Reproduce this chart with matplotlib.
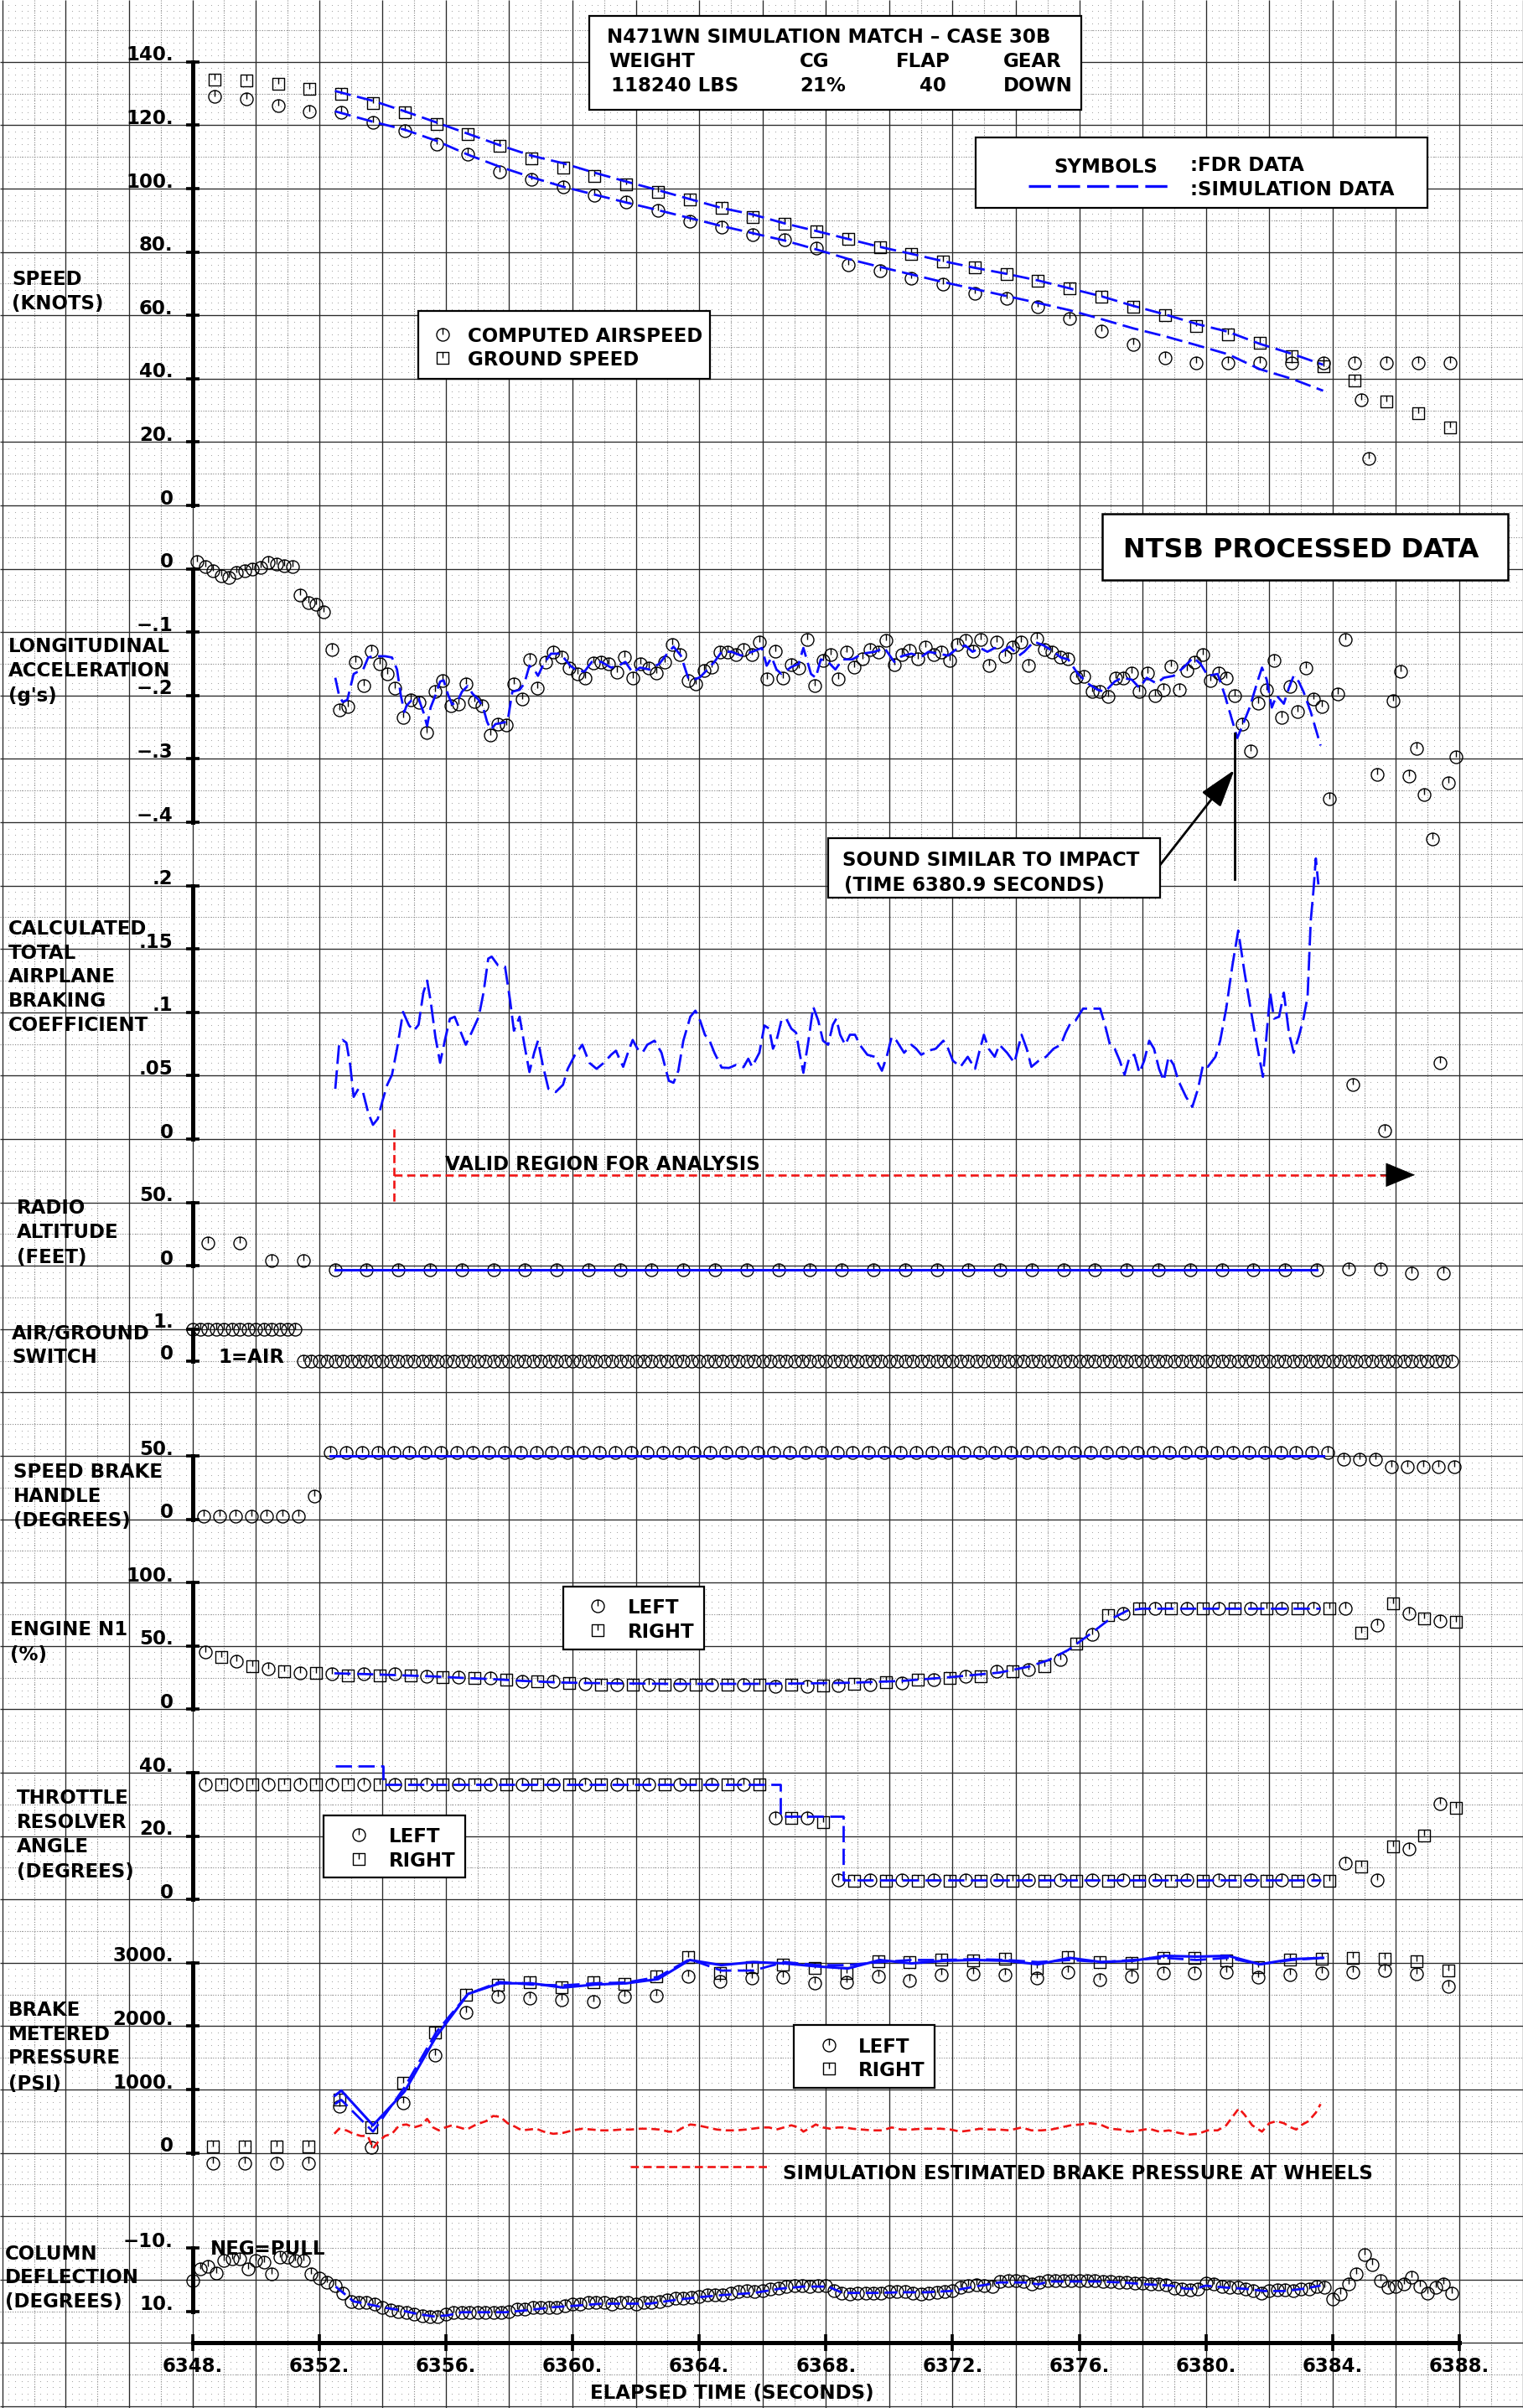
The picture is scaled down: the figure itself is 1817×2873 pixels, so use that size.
import numpy as np
import matplotlib
matplotlib.use("Agg")
import matplotlib.pyplot as plt
from matplotlib.path import Path
from matplotlib.patches import Rectangle
from matplotlib.lines import Line2D
from matplotlib import transforms

plt.rcParams['font.family'] = ['DejaVu Sans']
plt.rcParams['font.weight'] = 'bold'
plt.rcParams['lines.scale_dashes'] = False

# ---------------------------------------------------------------- data
# speed (knots), FDR at 1 Hz
t_spd = np.arange(6348.7, 6388.0, 1.0)
gs_fdr = [134.5, 134.0, 133.1, 131.6, 129.9, 127.1, 124.1, 120.5, 117.1, 113.5,
          109.6, 106.5, 103.9, 101.2, 99.0, 96.5, 93.9, 91.0, 89.0, 86.6,
          84.1, 81.6, 79.4, 77.1, 75.0, 73.1, 71.0, 68.5, 66.0, 62.8,
          60.0, 56.5, 54.0, 51.2, 47.1, 43.8, 39.4, 32.9, 29.0, 24.7]
cas_fdr = [129.2, 128.3, 126.1, 124.4, 124.2, 120.9, 118.3, 113.9, 110.8, 105.3,
           103.0, 100.5, 98.0, 95.7, 93.2, 89.6, 87.7, 85.5, 83.9, 81.2,
           76.0, 74.0, 71.8, 69.9, 66.9, 65.4, 62.7, 58.9, 55.0, 50.7,
           46.6, 44.9, 44.9, 44.9, 44.9, 44.9, 44.9, 44.9, 44.9, 44.9]
t_spd_sim = np.r_[6352.5, np.arange(6353.7, 6384.0, 1.0)]
gs_sim = [130.8, 127.7, 124.4, 120.9, 117.3, 113.7, 110.4, 108.0, 105.0, 102.2,
          99.5, 96.7, 93.9, 91.8, 89.0, 86.6, 84.1, 81.6, 79.4, 77.1,
          75.0, 73.1, 71.0, 68.5, 66.0, 63.0, 60.3, 57.3, 54.8, 51.0, 47.9, 44.4]
cas_sim = [124.4, 121.1, 118.6, 115.1, 110.7, 106.9, 103.6, 100.6, 98.1, 95.6,
           93.2, 90.7, 88.2, 85.9, 83.6, 80.8, 77.8, 75.3, 72.9, 70.5,
           68.3, 66.1, 63.9, 61.6, 58.8, 55.9, 53.4, 50.6, 47.7, 43.0, 40.0, 36.2]

# longitudinal acceleration (g), FDR at 4 Hz
t_acc = 6348.15 + 0.25 * np.arange(160)
acc_fdr = [0.011, 0.003, -0.003, -0.011, -0.014, -0.006, -0.003, -0.001, 0.002, 0.010,
           0.007, 0.005, 0.003, -0.042, -0.054, -0.056, -0.068, -0.128, -0.223, -0.218,
           -0.147, -0.185, -0.130, -0.150, -0.166, -0.188, -0.235, -0.207, -0.211, -0.259,
           -0.194, -0.176, -0.216, -0.213, -0.182, -0.210, -0.216, -0.262, -0.245, -0.246,
           -0.182, -0.205, -0.144, -0.189, -0.147, -0.131, -0.139, -0.157, -0.166, -0.173,
           -0.149, -0.147, -0.150, -0.163, -0.140, -0.172, -0.150, -0.157, -0.164, -0.147,
           -0.120, -0.135, -0.176, -0.182, -0.161, -0.155, -0.131, -0.131, -0.136, -0.128,
           -0.136,
           -0.115, -0.174, -0.130, -0.173, -0.151, -0.156, -0.112, -0.185, -0.145, -0.136,
           -0.174, -0.131, -0.155, -0.142, -0.128, -0.131, -0.113, -0.151, -0.135, -0.129,
           -0.142, -0.123, -0.135, -0.131, -0.145, -0.119, -0.113, -0.130, -0.111, -0.152,
           -0.115, -0.138, -0.123, -0.116, -0.153, -0.110, -0.128, -0.131, -0.139, -0.142,
           -0.171, -0.170, -0.193, -0.194, -0.202, -0.172, -0.172, -0.164, -0.193, -0.164,
           -0.200, -0.191, -0.154, -0.191, -0.161, -0.148, -0.136, -0.177, -0.165, -0.173,
           -0.200, -0.245, -0.287, -0.212, -0.191, -0.145, -0.235, -0.186, -0.226, -0.157,
           -0.205, -0.217, -0.363, -0.197, -0.112,
           -0.814, 0.267, 0.174, -0.324, -0.887, -0.208, -0.162, -0.327, -0.283, -0.356,
           -0.426, -0.779, -0.338, -0.297]
t_acc_sim = [6352.51, 6352.63, 6352.74, 6352.89, 6353.09, 6353.24, 6353.39, 6353.55, 6353.70, 6354.08,
             6354.30, 6354.46, 6354.58, 6354.69, 6354.76, 6354.91, 6355.14, 6355.29, 6355.41, 6355.52,
             6355.67, 6355.82, 6355.93, 6356.08, 6356.20, 6356.36, 6356.51, 6356.69, 6356.84, 6357.04,
             6357.19, 6357.30, 6357.42, 6357.57, 6357.80, 6357.95, 6358.10, 6358.33, 6358.48, 6358.64,
             6358.79, 6358.91, 6359.09, 6359.32, 6359.62, 6359.93, 6360.15, 6360.38, 6360.61, 6360.91,
             6361.22, 6361.45, 6361.67, 6361.90, 6362.13, 6362.43, 6362.74, 6363.04, 6363.19, 6363.42,
             6363.65, 6363.80, 6364.03, 6364.26, 6364.48, 6364.71, 6365.02, 6365.32, 6365.67,
             6365.98, 6366.13, 6366.29, 6366.44, 6366.60, 6366.91, 6367.14, 6367.29, 6367.53, 6367.68,
             6367.84, 6368.07, 6368.30, 6368.53, 6368.84, 6369.15, 6369.54, 6369.85, 6370.16, 6370.39,
             6370.70, 6371.01, 6371.24, 6371.55, 6371.86, 6372.17, 6372.40, 6372.63, 6372.87, 6373.10,
             6373.33, 6373.56, 6373.79, 6374.10, 6374.26, 6374.57, 6374.88, 6375.19, 6375.42, 6375.65,
             6375.96, 6376.27, 6376.58, 6376.81, 6377.12, 6377.35, 6377.66, 6377.90, 6378.13, 6378.44,
             6378.67, 6378.98, 6379.29, 6379.60, 6379.83, 6380.06, 6380.37, 6380.60, 6380.84, 6380.99,
             6381.15, 6381.38, 6381.61, 6381.77, 6381.92, 6382.08, 6382.23, 6382.46, 6382.62, 6382.77,
             6382.93, 6383.08, 6383.31, 6383.62]
acc_sim = [-0.172, -0.200, -0.210, -0.207, -0.166, -0.162, -0.159, -0.140, -0.138, -0.138,
           -0.140, -0.159, -0.200, -0.226, -0.216, -0.208, -0.205, -0.226, -0.248, -0.219,
           -0.200, -0.178, -0.176, -0.200, -0.214, -0.210, -0.194, -0.185, -0.197, -0.207,
           -0.221, -0.241, -0.254, -0.245, -0.243, -0.241, -0.194, -0.191, -0.181, -0.153,
           -0.159, -0.169, -0.150, -0.134, -0.134, -0.153, -0.161, -0.162, -0.147, -0.147,
           -0.156, -0.153, -0.147, -0.164, -0.156, -0.159, -0.150, -0.131, -0.123, -0.137,
           -0.172, -0.176, -0.171, -0.159, -0.147, -0.131, -0.131, -0.137, -0.131,
           -0.125, -0.153, -0.140, -0.159, -0.166, -0.155, -0.150, -0.125, -0.166, -0.172,
           -0.143, -0.147, -0.159, -0.143, -0.143, -0.134, -0.131, -0.125, -0.147, -0.138,
           -0.134, -0.139, -0.131, -0.134, -0.137, -0.125, -0.121, -0.131, -0.125, -0.131,
           -0.125, -0.131, -0.123, -0.137, -0.131, -0.115, -0.121, -0.131, -0.140, -0.143,
           -0.166, -0.181, -0.191, -0.194, -0.178, -0.172, -0.175, -0.188, -0.172, -0.181,
           -0.172, -0.169, -0.156, -0.140, -0.150, -0.169, -0.166, -0.200, -0.241, -0.267,
           -0.248, -0.219, -0.181, -0.156, -0.175, -0.219, -0.200, -0.213, -0.188, -0.169,
           -0.178, -0.194, -0.226, -0.279]

# calculated total airplane braking coefficient (simulation)
t_mu = [6352.51, 6352.63, 6352.74, 6352.86, 6352.98, 6353.09, 6353.24, 6353.39, 6353.55, 6353.70,
        6353.85, 6354.00, 6354.15, 6354.30, 6354.46, 6354.65, 6354.84, 6354.99, 6355.14, 6355.29,
        6355.41, 6355.52, 6355.67, 6355.82, 6355.98, 6356.13, 6356.28, 6356.43, 6356.63, 6356.81,
        6357.04, 6357.19, 6357.34, 6357.45, 6357.65, 6357.87, 6358.03, 6358.15, 6358.33, 6358.48,
        6358.64, 6358.79, 6358.91, 6359.06, 6359.24, 6359.47, 6359.70, 6359.85, 6360.08, 6360.31,
        6360.53, 6360.76, 6360.99, 6361.22, 6361.37, 6361.60, 6361.75, 6361.90, 6362.05, 6362.21,
        6362.36, 6362.59, 6362.81, 6363.04, 6363.19, 6363.34, 6363.50, 6363.72, 6363.88, 6364.03,
        6364.18, 6364.33, 6364.48, 6364.71, 6364.94, 6365.17, 6365.40, 6365.55, 6365.67,
        6365.90, 6366.06, 6366.21, 6366.33, 6366.44, 6366.60, 6366.75, 6366.91, 6367.06, 6367.17,
        6367.29, 6367.45, 6367.60, 6367.76, 6367.91, 6368.07, 6368.22, 6368.33, 6368.45, 6368.61,
        6368.76, 6368.92, 6369.07, 6369.31, 6369.54, 6369.77, 6369.92, 6370.08, 6370.23, 6370.47,
        6370.70, 6370.85, 6371.01, 6371.24, 6371.47, 6371.71, 6371.86, 6372.01, 6372.25, 6372.48,
        6372.71, 6372.87, 6372.99, 6373.14, 6373.33, 6373.48, 6373.72, 6373.95, 6374.18, 6374.34,
        6374.49, 6374.72, 6374.95, 6375.19, 6375.42, 6375.57, 6375.73, 6375.88, 6376.12, 6376.35,
        6376.66, 6376.81, 6376.97, 6377.12, 6377.28, 6377.43, 6377.59, 6377.74, 6377.90, 6378.05,
        6378.21, 6378.36, 6378.52, 6378.67, 6378.82, 6378.98, 6379.13, 6379.37, 6379.57, 6379.75,
        6379.91, 6380.06, 6380.30, 6380.45, 6380.64, 6380.84, 6381.02, 6381.22, 6381.41, 6381.61,
        6381.80, 6381.92, 6382.03, 6382.15, 6382.31, 6382.46, 6382.62, 6382.77, 6382.93, 6383.08,
        6383.21, 6383.31, 6383.39, 6383.47, 6383.55]
mu_sim = [0.0396, 0.0744, 0.0782, 0.0760, 0.0586, 0.0333, 0.0396, 0.0365, 0.0207, 0.0112,
          0.0159, 0.0301, 0.0428, 0.0507, 0.0713, 0.1003, 0.0896, 0.0855, 0.0902, 0.1155,
          0.1250, 0.1092, 0.0807, 0.0602, 0.0791, 0.0949, 0.0965, 0.0871, 0.0744, 0.0839,
          0.0965, 0.1155, 0.1424, 0.1439, 0.1370, 0.1360, 0.1092, 0.0855, 0.0965, 0.0744,
          0.0529, 0.0681, 0.0776, 0.0586, 0.0396, 0.0371, 0.0428, 0.0554, 0.0665, 0.0744,
          0.0602, 0.0554, 0.0602, 0.0665, 0.0697, 0.0570, 0.0681, 0.0782, 0.0713, 0.0681,
          0.0744, 0.0776, 0.0681, 0.0460, 0.0444, 0.0538, 0.0776, 0.0965, 0.1013, 0.0934,
          0.0823, 0.0776, 0.0681, 0.0564, 0.0561, 0.0586, 0.0567, 0.0634, 0.0570,
          0.0681, 0.0896, 0.0871, 0.0713, 0.0776, 0.0940, 0.0950, 0.0871, 0.0839, 0.0681,
          0.0523, 0.0776, 0.1044, 0.0934, 0.0776, 0.0744, 0.0902, 0.0950, 0.0823, 0.0744,
          0.0823, 0.0823, 0.0744, 0.0665, 0.0649, 0.0539, 0.0649, 0.0807, 0.0776, 0.0681,
          0.0744, 0.0713, 0.0665, 0.0697, 0.0713, 0.0776, 0.0713, 0.0618, 0.0570, 0.0649,
          0.0554, 0.0713, 0.0823, 0.0713, 0.0649, 0.0744, 0.0681, 0.0602, 0.0823, 0.0713,
          0.0570, 0.0618, 0.0649, 0.0713, 0.0744, 0.0839, 0.0918, 0.0934, 0.1029, 0.1029,
          0.1029, 0.0902, 0.0744, 0.0713, 0.0618, 0.0507, 0.0649, 0.0665, 0.0523, 0.0618,
          0.0776, 0.0713, 0.0554, 0.0460, 0.0649, 0.0586, 0.0460, 0.0333, 0.0254, 0.0396,
          0.0586, 0.0570, 0.0649, 0.0776, 0.1029, 0.1376, 0.1645, 0.1313, 0.1029, 0.0744,
          0.0491, 0.0839, 0.1155, 0.0950, 0.0965, 0.1155, 0.0839, 0.0681, 0.0807, 0.0950,
          0.1124, 0.1724, 0.1945, 0.2214, 0.2009]

# radio altitude (ft), FDR at 1 Hz
t_ra = np.arange(6348.5, 6388.0, 1.0)
ra_fdr = [18, 18, 4, 4, -3, -3, -3, -3, -3, -3,
          -3, -3, -3, -3, -3, -3, -3, -3, -3, -3,
          -3, -3, -3, -3, -3, -3, -3, -3, -3, -3,
          -3, -3, -3, -3, -3, -3, -2.5, -2.5, -6, -6]
t_ra_sim = [6352.5, 6383.5]
ra_sim = [-3.3, -3.3]

# air/ground switch (1 = air), 4 Hz
t_ag = 6348.0 + 0.25 * np.arange(160)
ag_fdr = [1] * 14 + [0] * 146

# speed brake handle (deg), 2 Hz
t_sb = 6348.35 + 0.5 * np.arange(80)
sb_fdr = [2.4] * 7 + [18.5] + [52.6] * 64 + [47.2] * 3 + [41.3] * 5
t_sb_sim = [6352.35, 6383.7]
sb_sim = [50.0, 50.0]

# engine N1 (%), left and right channels at 1 Hz
t_n1_l = np.arange(6348.4, 6387.5, 1.0)
t_n1_r = np.arange(6348.9, 6388.0, 1.0)
n1_left = [45.5, 37.8, 31.9, 28.4, 27.8, 27.8, 27.8, 26.3, 25.4, 24.5,
           22.4, 22.4, 20.4, 19.5, 19.5, 19.5, 19.5, 19.5, 18.0, 18.0,
           18.6, 19.5, 21.0, 23.3, 26.0, 29.8, 31.3, 39.3, 59.3, 75.6,
           79.4, 79.4, 79.4, 79.4, 79.4, 79.4, 79.4, 66.7, 75.6, 69.7]
n1_right = [41.6, 34.3, 29.8, 28.4, 26.9, 26.9, 26.9, 25.4, 24.5, 23.1,
            22.4, 21.0, 19.5, 19.5, 19.5, 19.5, 19.5, 19.5, 19.5, 18.6,
            20.1, 21.6, 23.1, 24.5, 26.0, 29.8, 34.3, 52.0, 74.1, 79.4,
            79.4, 79.4, 79.4, 79.4, 79.4, 79.4, 60.2, 83.9, 72.0, 68.8]
t_n1_sim = [6352.48, 6353.47, 6354.53, 6355.60, 6356.51, 6357.42, 6358.48, 6359.55, 6360.61, 6361.67,
            6363.19, 6364.71, 6365.74, 6367.29, 6368.84, 6370.39, 6371.94, 6373.48, 6374.41, 6375.03,
            6375.65, 6376.27, 6376.89, 6377.51, 6377.97, 6383.62]
n1_sim = [28.4, 27.8, 26.9, 26.0, 24.8, 23.9, 22.4, 21.2, 20.7, 20.4,
          20.1, 20.1, 20.1, 20.4, 21.0, 22.4, 25.4, 29.0, 33.7, 38.8,
          46.8, 58.0, 69.8, 77.8, 79.4, 79.4]

# throttle resolver angle (deg)
tra_left = [36.2] * 18 + [25.7, 25.7] + [6.1] * 16 + [11.5, 6.1, 16.0, 30.2]
tra_right = [36.2] * 18 + [25.7, 24.3] + [6.0] * 16 + [10.4, 16.7, 20.1, 28.9]
t_tra_sim = [6352.5, 6354.03, 6366.55, 6368.56, 6383.62]
tra_sim = [42.2, 36.2, 26.2, 6.1, 6.1]

# brake metered pressure (psi), 1 Hz
t_bp = np.arange(6348.65, 6388.0, 1.0)
bp_left = [-167, -167, -167, -167, 735, 87, 783, 1538, 2221, 2462,
           2442, 2421, 2388, 2462, 2475, 2790, 2709, 2763, 2776, 2676,
           2696, 2790, 2722, 2809, 2823, 2809, 2757, 2856, 2735, 2790,
           2843, 2843, 2856, 2776, 2809, 2843, 2856, 2877, 2823, 2622]
bp_right = [101, 101, 101, 101, 836, 401, 1103, 1906, 2495, 2656,
            2689, 2608, 2696, 2669, 2790, 3090, 2843, 2930, 2976, 2923,
            2843, 3024, 3011, 3044, 3031, 3064, 2923, 3090, 3011, 2997,
            3077, 3077, 3031, 2930, 3044, 3064, 3077, 3057, 3024, 2877]
t_bp_sim = np.r_[6352.5, np.arange(6352.7, 6384.0, 1.0)]
bp_sim_left = [903, 983, 435, 970, 1840, 2508, 2676, 2676, 2609, 2656,
               2676, 2742, 3044, 2963, 3011, 2990, 2943, 2910, 3044, 2990,
               3031, 3044, 3031, 2976, 3077, 3011, 3031, 3110, 3097, 3110,
               2976, 3057, 3077]
bp_sim_right = [770, 836, 335, 1037, 1906, 2508, 2696, 2656, 2643, 2676,
                2689, 2776, 3057, 2877, 2877, 3011, 2963, 2963, 3011, 3044,
                3044, 3057, 3044, 3011, 3044, 3011, 3044, 3077, 3044, 3077,
                2976, 3044, 3077]
t_wheel = [6352.48, 6352.63, 6352.86, 6353.09, 6353.32, 6353.54, 6353.70, 6353.85, 6354.08, 6354.30,
           6354.53, 6354.76, 6354.99, 6355.22, 6355.41, 6355.60, 6355.78, 6355.98, 6356.20, 6356.43,
           6356.66, 6356.96, 6357.27, 6357.49, 6357.72, 6357.95, 6358.18, 6358.40, 6358.63, 6358.86,
           6359.09, 6359.39, 6359.70, 6360.00, 6360.31, 6360.61, 6360.91, 6361.22, 6361.52, 6361.83,
           6362.13, 6362.43, 6362.74, 6363.04, 6363.27, 6363.50, 6363.72, 6363.95, 6364.26, 6364.56,
           6364.86, 6365.17, 6365.47,
           6365.98, 6366.21, 6366.44, 6366.67, 6366.91, 6367.14, 6367.29, 6367.53, 6367.68, 6367.91,
           6368.14, 6368.38, 6368.61, 6368.84, 6369.15, 6369.46, 6369.77, 6370.08, 6370.39, 6370.70,
           6371.01, 6371.32, 6371.63, 6371.94, 6372.25, 6372.56, 6372.87, 6373.18, 6373.48, 6373.79,
           6374.18, 6374.49, 6374.80, 6375.11, 6375.42, 6375.73, 6376.04, 6376.35, 6376.66, 6376.97,
           6377.28, 6377.59, 6377.90, 6378.21, 6378.52, 6378.83, 6379.14, 6379.44, 6379.75, 6380.06,
           6380.37, 6380.64, 6380.84, 6381.04, 6381.22, 6381.46, 6381.77, 6382.00, 6382.23, 6382.46,
           6382.69, 6382.85, 6383.00, 6383.24, 6383.47, 6383.62]
p_wheel = [301, 381, 355, 301, 267, 267, 67, 167, 267, 301,
           435, 448, 401, 435, 536, 401, 355, 401, 435, 401,
           368, 448, 501, 582, 569, 468, 415, 355, 368, 381,
           335, 301, 315, 355, 381, 368, 355, 355, 368, 368,
           381, 381, 368, 335, 335, 401, 448, 435, 401, 368,
           355, 355, 368,
           401, 401, 368, 401, 435, 401, 335, 401, 448, 401,
           381, 401, 401, 381, 368, 355, 355, 401, 368, 368,
           381, 381, 381, 368, 335, 355, 381, 368, 368, 355,
           401, 355, 355, 368, 401, 435, 448, 468, 448, 381,
           368, 335, 355, 381, 335, 355, 315, 287, 301, 355,
           355, 435, 569, 702, 602, 435, 335, 468, 501, 468,
           401, 368, 435, 501, 635, 770]

# column deflection (deg, negative = pull), 4 Hz
t_col = 6348.0 + 0.25 * np.arange(160)
col_fdr = [0.2, -3.4, -4.2, -2.1, -6.1, -6.5, -6.5, -3.4, -6.1, -5.6,
           -1.8, -7.2, -7.2, -5.9, -6.1, -1.8, -0.5, 0.9, 1.9, 4.2,
           6.9, 7.3, 7.3, 7.6, 8.7, 9.6, 10.0, 10.3, 10.9, 11.3,
           11.6, 11.6, 10.9, 10.5, 10.5, 10.3, 10.3, 10.3, 10.3, 10.3,
           10.0, 9.3, 9.2, 8.9, 8.7, 8.7, 8.7, 8.2, 7.8, 7.6,
           7.3, 7.3, 7.3, 7.6, 7.3, 7.3, 7.6, 7.3, 7.3, 6.9,
           6.5, 6.0, 6.0, 5.6, 5.3, 4.9, 4.9, 4.9, 4.2, 3.8,
           3.6,
           3.8, 3.6, 2.9, 2.6, 2.2, 1.9, 1.9, 2.2, 1.9, 1.9,
           3.6, 4.2, 4.5, 4.2, 4.2, 4.2, 4.2, 3.8, 3.8, 3.8,
           4.2, 4.6, 4.4, 4.0, 3.8, 3.6, 2.5, 1.9, 1.7, 1.9,
           2.2, 0.6, 0.3, 0.2, 0.6, 1.5, 0.9, 0.2, 0.2, 0.2,
           0.2, 0.2, 0.2, 0.3, 0.6, 0.6, 0.9, 0.9, 1.1, 1.1,
           1.3, 1.5, 1.7, 2.7, 3.0, 3.3, 2.9, 1.1, 1.5, 2.2,
           2.5, 2.5, 2.9, 3.6, 4.2, 3.6, 3.3, 3.3, 3.6, 2.9,
           2.9, 2.2, 2.5, 6.2, 4.6, 1.5, -1.8, -7.9, -4.8, 0.2,
           2.5, 2.2, 1.5, -0.7, 2.2, 4.2, 2.5, 1.5, 4.2]
t_col_sim = [6352.52, 6353.09, 6353.47, 6354.08, 6354.53, 6355.14, 6355.60, 6356.05, 6356.51, 6357.12,
             6357.88, 6358.64, 6359.40, 6360.15, 6360.91, 6361.67, 6362.43, 6363.19, 6363.95, 6364.71,
             6365.74, 6366.52, 6367.29, 6368.07, 6368.53, 6369.61, 6370.39, 6371.16, 6371.94, 6372.71,
             6373.48, 6374.26, 6374.72, 6375.03, 6375.81, 6376.58, 6377.35, 6378.13, 6378.90, 6379.37,
             6379.68, 6379.99, 6380.60, 6381.22, 6381.84, 6382.46, 6383.08, 6383.62]
col_sim = [2.2, 6.9, 7.6, 8.9, 9.6, 10.9, 11.6, 11.3, 10.3, 10.3,
           10.3, 9.6, 8.7, 8.2, 7.6, 7.6, 7.6, 6.5, 5.6, 4.9,
           4.2, 2.9, 2.2, 2.2, 4.2, 4.2, 4.0, 4.0, 3.6, 2.2,
           0.9, 0.9, 1.5, 0.6, 0.6, 0.6, 0.9, 1.5, 1.9, 2.9,
           2.9, 1.9, 2.5, 2.9, 3.6, 3.6, 2.9, 1.9]

x_ticks = [6348, 6352, 6356, 6360, 6364, 6368, 6372, 6376, 6380, 6384, 6388]
x_tick_labels = ["6348.", "6352.", "6356.", "6360.", "6364.", "6368.",
                 "6372.", "6376.", "6380.", "6384.", "6388."]

# ---------------------------------------------------------------- page geometry
W, H = 1817, 2873
T0, T1 = 6348.0, 6388.0
X0, X1 = 229.6, 1741.0          # pixel columns of the time axis ends
SEC = (X1 - X0) / (T1 - T0)     # pixels per second
R0, RH = -1.8, 75.6             # pixel row of grid line 0 and row pitch

BLUE = '#0c0cff'
RED = '#f01414'
FS = 16.5


def ypix(row):
    return R0 + RH * row


fig = plt.figure(figsize=(W / 100, H / 100), dpi=100)

# ---- graph paper background
paper = fig.add_axes([0, 0, 1, 1])
tl, tr = T0 - X0 / SEC, T0 + (W - X0) / SEC
rt, rb = -R0 / RH, (H - R0) / RH
paper.set_xlim(tl, tr)
paper.set_ylim(rb, rt)
paper.axis('off')

tenth_t = np.arange(6342, 6390.05, 0.2)
tenth_r = np.arange(0, 38.05, 0.1)
TT, RR = np.meshgrid(tenth_t, tenth_r)
paper.plot(TT.ravel(), RR.ravel(), ls='none', marker='s', ms=0.75, mew=0,
           color='#a8a8a8', zorder=0)
half_t = np.arange(6343, 6390, 2.0)
half_r = np.arange(0.5, 38.1, 1.0)
paper.vlines(half_t, rt, rb, colors='#8c8c8c', lw=0.8, linestyles=[(0, (0.8, 1.3))], zorder=1)
paper.hlines(half_r, tl, tr, colors='#8c8c8c', lw=0.8, linestyles=[(0, (0.8, 1.3))], zorder=1)
paper.vlines(np.arange(6342, 6390.1, 2.0), rt, rb, colors='#2a2a2a', lw=0.95, zorder=2)
paper.hlines(np.arange(0, 38.1, 1.0), tl, tr, colors='#2a2a2a', lw=0.95, zorder=2)


# ---- panels
def panel(row_top, row_bot, v_top, v_bot, ticks, labels):
    left = X0 / W
    width = (X1 - X0) / W
    top = 1 - ypix(row_top) / H
    bot = 1 - ypix(row_bot) / H
    ax = fig.add_axes([left, bot, width, top - bot])
    ax.set_xlim(T0, T1)
    ax.set_ylim(v_bot, v_top)
    ax.patch.set_visible(False)
    for s in ('top', 'right', 'bottom'):
        ax.spines[s].set_visible(False)
    ax.spines['left'].set_linewidth(3.6)
    ax.set_xticks([])
    ax.set_yticks(ticks)
    ax.tick_params(axis='y', direction='inout', length=12, width=2.6,
                   labelleft=False)
    tr_lab = transforms.offset_copy(ax.get_yaxis_transform(), fig=fig,
                                    x=-16.5, y=1.0, units='points')
    for v, s in zip(ticks, labels):
        ax.text(0, v, s, transform=tr_lab, ha='right', va='baseline',
                fontsize=FS, fontweight='bold', color='black')
    return ax


CIRC = Path.make_compound_path(Path.unit_circle(),
                               Path([[0, 0], [0, 1]], [Path.MOVETO, Path.LINETO]))
SQR = Path.make_compound_path(
    Path([[-1, -1], [1, -1], [1, 1], [-1, 1], [-1, -1]],
         [Path.MOVETO, Path.LINETO, Path.LINETO, Path.LINETO, Path.CLOSEPOLY]),
    Path([[0, 0], [0, 1]], [Path.MOVETO, Path.LINETO]))
MK_C = dict(ls='none', marker=CIRC, ms=10.8, mfc='none', mec='black', mew=1.0,
            clip_on=False, zorder=2)
MK_S = dict(ls='none', marker=SQR, ms=9.6, mfc='none', mec='black', mew=1.0,
            clip_on=False, zorder=2)
SIM = dict(color=BLUE, lw=2.0, ls=(0, (14, 5.5)), clip_on=False, zorder=3)
SIM_SOLID = dict(color=BLUE, lw=2.2, ls='-', clip_on=False, zorder=3)

ax_spd = panel(1, 8, 140, 0, [0, 20, 40, 60, 80, 100, 120, 140],
               ['0', '20.', '40.', '60.', '80.', '100.', '120.', '140.'])
ax_spd.plot(t_spd, gs_fdr, **MK_S)
ax_spd.plot(t_spd, cas_fdr, **MK_C)
ax_spd.plot(t_spd_sim, gs_sim, **SIM)
ax_spd.plot(t_spd_sim, cas_sim, **SIM)

ax_acc = panel(9, 13, 0, -0.4, [0, -0.1, -0.2, -0.3, -0.4],
               ['0', '\u2212.1', '\u2212.2', '\u2212.3', '\u2212.4'])
ax_acc.plot(t_acc, acc_fdr, **MK_C)
ax_acc.plot(t_acc_sim, acc_sim, **SIM)
# impact marker and its callout arrow
ax_acc.plot([6380.9, 6380.9], [-0.26, -0.49], color='black', lw=2.0,
            clip_on=False, zorder=4)
ax_acc.annotate('', xy=(6380.9, -0.3175), xytext=(6378.56, -0.467),
                arrowprops=dict(arrowstyle='-|>,head_length=0.7,head_width=0.22',
                                mutation_scale=40, color='black', lw=2.0,
                                shrinkA=0, shrinkB=0),
                annotation_clip=False, zorder=4)

ax_mu = panel(14, 18, 0.2, 0, [0, 0.05, 0.1, 0.15, 0.2],
              ['0', '.05', '.1', '.15', '.2'])
ax_mu.plot(t_mu, mu_sim, color=BLUE, lw=2.0, ls=(0, (16, 5.5)), clip_on=False, zorder=3)
# valid region marker
ax_mu.plot([6354.35, 6354.35], [0.0079, -0.0496], color=RED, lw=1.9,
           ls=(0, (7, 4)), clip_on=False, zorder=3)
ax_mu.plot([6354.35, 6385.8], [-0.0283, -0.0283], color=RED, lw=1.9,
           ls=(0, (7, 4)), clip_on=False, zorder=3)
ax_mu.annotate('', xy=(6386.6, -0.0283), xytext=(6385.5, -0.0283),
               arrowprops=dict(arrowstyle='-|>,head_length=0.8,head_width=0.33',
                               mutation_scale=30, color='black', lw=0.5,
                               shrinkA=0, shrinkB=0),
               annotation_clip=False, zorder=4)

ax_ra = panel(19, 20, 50, 0, [0, 50], ['0', '50.'])
ax_ra.plot(t_ra, ra_fdr, **MK_C)
ax_ra.plot(t_ra_sim, ra_sim, **SIM_SOLID)

ax_ag = panel(21, 21.5, 1, 0, [0, 1], ['0', '1.'])
ax_ag.plot(t_ag, ag_fdr, **MK_C)

ax_sb = panel(23, 24, 50, 0, [0, 50], ['0', '50.'])
ax_sb.plot(t_sb, sb_fdr, **MK_C)
ax_sb.plot(t_sb_sim, sb_sim, **SIM_SOLID)

ax_n1 = panel(25, 27, 100, 0, [0, 50, 100], ['0', '50.', '100.'])
ax_n1.plot(t_n1_l, n1_left, **MK_C)
ax_n1.plot(t_n1_r, n1_right, **MK_S)
ax_n1.plot(t_n1_sim, n1_sim, **SIM)

ax_tra = panel(28, 30, 40, 0, [0, 20, 40], ['0', '20.', '40.'])
ax_tra.plot(t_n1_l, tra_left, **MK_C)
ax_tra.plot(t_n1_r, tra_right, **MK_S)
ax_tra.plot(t_tra_sim, tra_sim, drawstyle='steps-post', **SIM)

ax_bp = panel(31, 34, 3000, 0, [0, 1000, 2000, 3000],
              ['0', '1000.', '2000.', '3000.'])
ax_bp.plot(t_bp, bp_left, **MK_C)
ax_bp.plot(t_bp, bp_right, **MK_S)
ax_bp.plot(t_bp_sim, bp_sim_left, **SIM_SOLID)
ax_bp.plot(t_bp_sim, bp_sim_right, **SIM)
ax_bp.plot(t_wheel, p_wheel, color=RED, lw=1.9, ls=(0, (7, 4)), clip_on=False, zorder=3)

ax_col = panel(35.5, 36.5, -10, 10, [-10, 10], ['\u221210.', '10.'])
ax_col.plot(t_col, col_fdr, **MK_C)
ax_col.plot(t_col_sim, col_sim, color=BLUE, lw=2.0, ls=(0, (11, 5)),
            clip_on=False, zorder=3)

# ---- time axis
axx = fig.add_axes([X0 / W, 1 - ypix(37) / H, (X1 - X0) / W, 0.02])
axx.set_xlim(T0, T1)
axx.patch.set_visible(False)
for s in ('top', 'right', 'left'):
    axx.spines[s].set_visible(False)
axx.spines['bottom'].set_linewidth(3.6)
axx.set_yticks([])
axx.set_xticks(x_ticks)
axx.set_xticklabels(x_tick_labels, fontsize=FS, fontweight='bold')
axx.tick_params(axis='x', direction='inout', length=14, width=2.6, pad=5)


# ---- annotation helpers (pixel positions on the page)
def txt(x, y, s, ha='left', size=FS):
    fig.text(x / W, 1 - y / H, s, ha=ha, va='center_baseline', fontsize=size,
             fontweight='bold', color='black', zorder=8)


def box(x0, y0, x1, y1, lw=1.6):
    fig.add_artist(Rectangle((x0 / W, 1 - y1 / H), (x1 - x0) / W, (y1 - y0) / H,
                             transform=fig.transFigure, fc='white', ec='black',
                             lw=lw, zorder=6))


def key_marker(x, y, path, ms):
    fig.add_artist(Line2D([x / W], [1 - y / H], transform=fig.transFigure,
                          marker=path, ms=ms, mfc='none', mec='black', mew=1.0,
                          ls='none', zorder=8))


# title block
box(703, 19, 1290, 131)
txt(724, 42, 'N471WN SIMULATION MATCH \u2013 CASE 30B')
txt(726, 71, 'WEIGHT')
txt(954, 71, 'CG')
txt(1069, 71, 'FLAP')
txt(1197, 71, 'GEAR')
txt(729, 100, '118240 LBS')
txt(954, 100, '21%')
txt(1129, 100, '40', ha='right')
txt(1197, 100, 'DOWN')

# symbols key
box(1164, 164, 1703, 248)
txt(1257, 197, 'SYMBOLS')
txt(1420, 195, ':FDR DATA')
txt(1420, 224, ':SIMULATION DATA')
fig.add_artist(Line2D([1227 / W, 1397 / W], [1 - 222 / H, 1 - 222 / H],
                      transform=fig.transFigure, color=BLUE, lw=2.4,
                      ls=(0, (19, 6)), zorder=8))

# speed key
box(499, 371, 847, 452)
key_marker(528, 399, CIRC, 10.8)
key_marker(528, 427, SQR, 9.6)
txt(558, 399, 'COMPUTED AIRSPEED')
txt(558, 427, 'GROUND SPEED')

box(1315, 613, 1799, 692, lw=1.8)
txt(1340, 653, 'NTSB PROCESSED DATA', size=23)

box(988, 1000, 1384, 1071)
txt(1005, 1024, 'SOUND SIMILAR TO IMPACT')
txt(1007, 1054, '(TIME 6380.9 SECONDS)')

txt(531, 1387, 'VALID REGION FOR ANALYSIS')

box(672, 1893, 840, 1968)
key_marker(713, 1916, CIRC, 10.8)
key_marker(713, 1945, SQR, 9.6)
txt(749, 1916, 'LEFT')
txt(749, 1945, 'RIGHT')

box(386, 2166, 555, 2240)
key_marker(428, 2189, CIRC, 10.8)
key_marker(428, 2218, SQR, 9.6)
txt(464, 2189, 'LEFT')
txt(464, 2218, 'RIGHT')

box(947, 2416, 1115, 2491)
key_marker(989, 2440, CIRC, 10.8)
key_marker(989, 2468, SQR, 9.6)
txt(1024, 2440, 'LEFT')
txt(1024, 2468, 'RIGHT')

fig.add_artist(Line2D([752 / W, 917 / W], [1 - 2585 / H, 1 - 2585 / H],
                      transform=fig.transFigure, color=RED, lw=1.9,
                      ls=(0, (7, 4)), zorder=8))
txt(934, 2591, 'SIMULATION ESTIMATED BRAKE PRESSURE AT WHEELS')

# panel titles
for y, s in [(331, 'SPEED'), (360, '(KNOTS)')]:
    txt(14, y, s)
for y, s in [(769, 'LONGITUDINAL'), (798, 'ACCELERATION'), (828, "(g's)")]:
    txt(10, y, s)
for y, s in [(1106, 'CALCULATED'), (1135, 'TOTAL'), (1163, 'AIRPLANE'),
             (1192, 'BRAKING'), (1221, 'COEFFICIENT')]:
    txt(10, y, s)
for y, s in [(1439, 'RADIO'), (1468, 'ALTITUDE'), (1498, '(FEET)')]:
    txt(20, y, s)
for y, s in [(1589, 'AIR/GROUND'), (1617, 'SWITCH')]:
    txt(14, y, s)
txt(260, 1617, '1=AIR')
for y, s in [(1754, 'SPEED BRAKE'), (1783, 'HANDLE'), (1812, '(DEGREES)')]:
    txt(16, y, s)
for y, s in [(1942, 'ENGINE N1'), (1972, '(%)')]:
    txt(12, y, s)
for y, s in [(2143, 'THROTTLE'), (2172, 'RESOLVER'), (2201, 'ANGLE'), (2231, '(DEGREES)')]:
    txt(20, y, s)
for y, s in [(2396, 'BRAKE'), (2425, 'METERED'), (2453, 'PRESSURE'), (2484, '(PSI)')]:
    txt(10, y, s)
for y, s in [(2687, 'COLUMN'), (2715, 'DEFLECTION'), (2744, '(DEGREES)')]:
    txt(6, y, s)
txt(251, 2681, 'NEG=PULL')
txt(873, 2853, 'ELAPSED TIME (SECONDS)', ha='center')

fig.savefig('out.png', dpi=100)
